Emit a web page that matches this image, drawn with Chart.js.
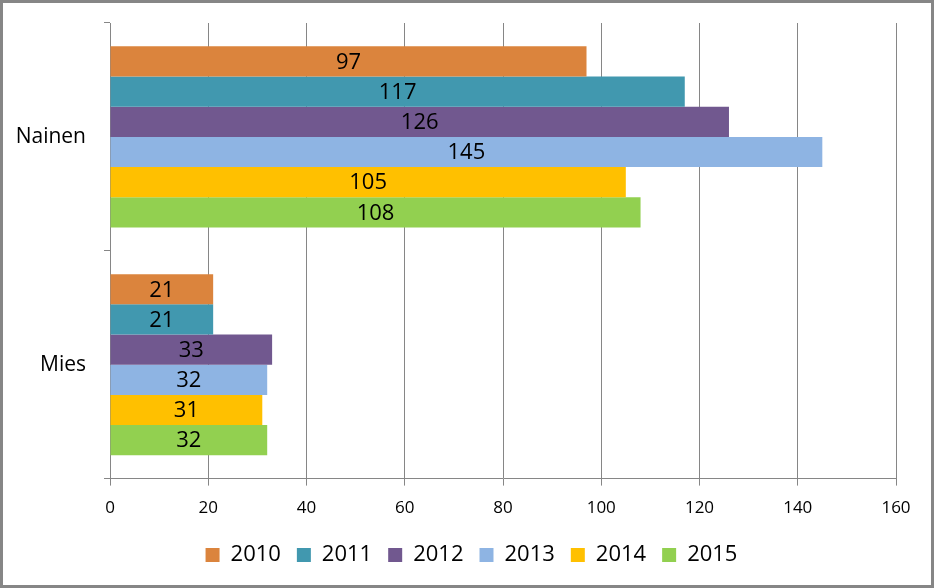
<!DOCTYPE html>
<html>
<head>
<meta charset="utf-8">
<script src="https://cdn.jsdelivr.net/npm/chart.js@4"></script>
<style>
  html, body { margin: 0; padding: 0; background: #fff; }
  .frame { width: 934px; height: 588px; box-sizing: border-box; border: 3px solid #868686; }
  canvas { display: block; }
</style>
</head>
<body>
<div class="frame"><canvas id="chart" width="928" height="582"></canvas></div>
<script>
// data
const categories = ['Nainen', 'Mies'];
const years = ['2010', '2011', '2012', '2013', '2014', '2015'];
const values2010 = [97, 21];
const values2011 = [117, 21];
const values2012 = [126, 33];
const values2013 = [145, 32];
const values2014 = [105, 31];
const values2015 = [108, 32];
const xTicks = [0, 20, 40, 60, 80, 100, 120, 140, 160];

const seriesValues = [values2010, values2011, values2012, values2013, values2014, values2015];
const colors = ['#DB843D', '#4198AF', '#71588F', '#8EB4E3', '#FFC000', '#92D050'];
const fontFamily = '"Open Sans", "Liberation Sans", sans-serif';

// simple value labels in the middle of each bar
const barLabels = {
    id: 'barLabels',
    afterDatasetsDraw(chart) {
        const ctx = chart.ctx;
        ctx.save();
        ctx.fillStyle = '#000';
        ctx.font = '22px ' + fontFamily;
        ctx.textAlign = 'center';
        ctx.textBaseline = 'middle';
        chart.data.datasets.forEach((ds, i) => {
            chart.getDatasetMeta(i).data.forEach((bar, j) => {
                const cx = (bar.x + bar.base) / 2;
                ctx.fillText(String(ds.data[j]), cx, bar.y + 1);
            });
        });
        ctx.restore();
    }
};

// the legend is centred on the whole frame, not on the padded area
const legendShift = {
    id: 'legendShift',
    afterLayout(chart) {
        chart.legend.left += 22;
        chart.legend.right += 22;
    }
};

new Chart(document.getElementById('chart'), {
    type: 'bar',
    data: {
        labels: categories,
        datasets: years.map((y, i) => ({
            label: y,
            data: seriesValues[i],
            backgroundColor: colors[i],
            borderWidth: 0,
            categoryPercentage: 0.795,
            barPercentage: 1.0
        }))
    },
    options: {
        indexAxis: 'y',
        responsive: false,
        animation: false,
        layout: { padding: { top: 20, right: 35, bottom: 9, left: 0 } },
        scales: {
            x: {
                min: 0,
                max: 160,
                afterBuildTicks: (scale) => { scale.ticks = xTicks.map(v => ({ value: v })); },
                afterFit: (scale) => { scale.height -= 2; },
                grid: { color: '#868686', lineWidth: 1, tickLength: 7 },
                border: { color: '#868686', width: 1 },
                ticks: { color: '#000', font: { family: fontFamily, size: 17 }, padding: 12 }
            },
            y: {
                afterFit: (scale) => {
                    scale.width = 107;
                    scale.paddingTop = 0;
                    scale.paddingBottom = 0;
                },
                grid: { color: '#868686', drawOnChartArea: false, tickLength: 6, offset: true },
                border: { color: '#868686', width: 1 },
                ticks: { color: '#000', font: { family: fontFamily, size: 21 }, padding: 18 }
            }
        },
        plugins: {
            legend: {
                position: 'bottom',
                labels: {
                    color: '#000',
                    font: { family: fontFamily, size: 22 },
                    boxWidth: 14,
                    boxHeight: 14,
                    padding: 16
                }
            },
            tooltip: { enabled: false }
        }
    },
    plugins: [barLabels, legendShift]
});
</script>
</body>
</html>
